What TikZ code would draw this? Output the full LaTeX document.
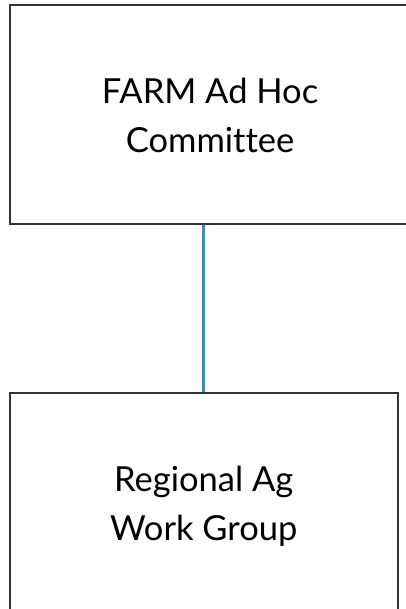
\documentclass[tikz,border=0pt]{standalone}
\usepackage{fontspec}
\setmainfont[Ligatures=NoCommon]{Lato}
\usetikzlibrary{positioning}

\begin{document}
\begin{tikzpicture}[x=1pt,y=-1pt]
\tikzstyle{unit}=[draw=black!80,line width=2pt,fill=white,minimum width=400pt,
  align=center,font=\fontsize{34.5}{49}\selectfont,inner sep=0pt]
\useasboundingbox (0,0) rectangle (406,609);
\clip (0,0) rectangle (406,609);
\node [unit,minimum height=219pt] (farm) at (210,115) {FARM Ad Hoc\\Committee};
\node [unit,minimum width=387.5pt,minimum height=227pt] (regional) at (203.75,506) {Regional Ag\\Work Group};
\draw [color={rgb,255:red,58;green,145;blue,168},line width=3pt] (regional.north |- farm.south) -- (regional.north);
\end{tikzpicture}
\end{document}
